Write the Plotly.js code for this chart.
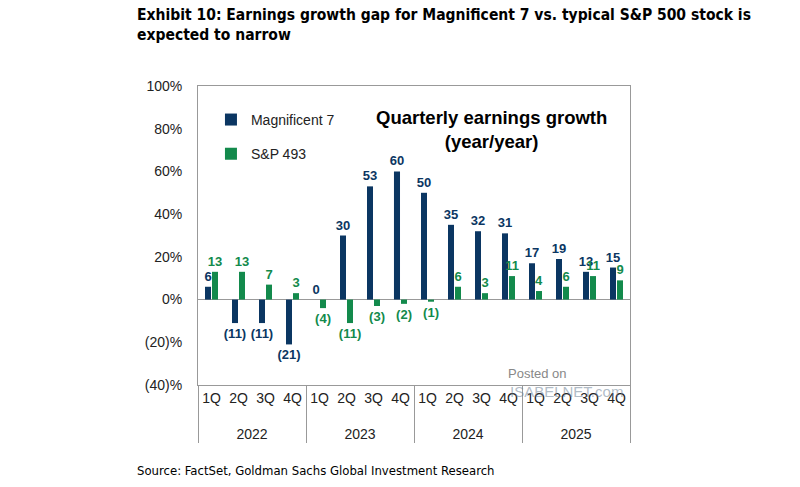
<!DOCTYPE html>
<html>
<head>
<meta charset="utf-8">
<script src="https://cdn.plot.ly/plotly-3.0.1.min.js"></script>
<style>
  body { margin: 0; background: #fff; }
  #chart { width: 800px; height: 487px; }
</style>
</head>
<body>
<div id="chart"></div>
<script>
// values, % year/year
var years = ["2022","2022","2022","2022","2023","2023","2023","2023",
             "2024","2024","2024","2024","2025","2025","2025","2025"];
var quarters = ["1Q","2Q","3Q","4Q","1Q","2Q","3Q","4Q",
                "1Q","2Q","3Q","4Q","1Q","2Q","3Q","4Q"];
var mag7 = [6, -11, -11, -21, 0, 30, 53, 60, 50, 35, 32, 31, 17, 19, 13, 15];
var sp493 = [13, 13, 7, 3, -4, -11, -3, -2, -1, 6, 3, 11, 4, 6, 11, 9];
var yTicks = [-40, -20, 0, 20, 40, 60, 80, 100];
var yTickText = ["(40)%", "(20)%", "0%", "20%", "40%", "60%", "80%", "100%"];

var navy = "#0b3662";
var green = "#138a4c";

// negatives shown in brackets
function lbl(v) {
    return v < 0 ? "(" + (-v) + ")" : String(v);
}

// year row sits a bit lower than the quarter row
var yearRow = years.map(function(y) { return "<br>" + y; });

var data = [
    {
        type: "bar", name: "Magnificent 7",
        x: [yearRow, quarters], y: mag7,
        marker: {color: navy},
        text: mag7.map(lbl), textposition: "outside", constraintext: "none",
        textfont: {family: "Liberation Sans, Arial, sans-serif", size: 13, color: navy, weight: 700},
        cliponaxis: false, legendgroup: "a", hoverinfo: "y"
    },
    {
        type: "bar", name: "S&P 493",
        x: [yearRow, quarters], y: sp493,
        marker: {color: green},
        text: sp493.map(lbl), textposition: "outside", constraintext: "none",
        textfont: {family: "Liberation Sans, Arial, sans-serif", size: 13, color: green, weight: 700},
        cliponaxis: false, legendgroup: "b", hoverinfo: "y"
    }
];

var layout = {
    width: 800, height: 487,
    margin: {l: 198, r: 170, t: 86, b: 102},
    paper_bgcolor: "#fff", plot_bgcolor: "#fff",
    font: {family: "Liberation Sans, Arial, sans-serif", size: 14, color: "#222"},
    barmode: "group", bargap: 0.48, bargroupgap: 0.14,
    showlegend: true,
    legend: {
        x: 0.03, y: 0.94, xanchor: "left", yanchor: "top",
        bgcolor: "rgba(0,0,0,0)", tracegroupgap: 13,
        font: {size: 14, color: "#222"}, itemwidth: 30
    },
    xaxis: {
        type: "multicategory",
        showline: true, linecolor: "#999", linewidth: 1, mirror: true,
        showdividers: true, dividercolor: "#999", dividerwidth: 1,
        tickfont: {size: 14, color: "#222"},
        showgrid: false, ticks: ""
    },
    yaxis: {
        range: [-40, 100], tickvals: yTicks, ticktext: yTickText,
        showline: true, linecolor: "#999", linewidth: 1, mirror: true,
        showgrid: false, zeroline: true, zerolinecolor: "#999", zerolinewidth: 1,
        ticks: "", ticklabelstandoff: 12,
        tickfont: {size: 14, color: "#222"}
    },
    annotations: [
        {
            xref: "paper", yref: "paper", x: 0.68, y: 0.935,
            xanchor: "center", yanchor: "top", showarrow: false,
            text: "<b>Quarterly earnings growth<br>(year/year)</b>",
            font: {size: 18.5, color: "#000"}
        },
        {
            xref: "paper", yref: "paper", x: -0.145, y: 1.275,
            xanchor: "left", yanchor: "top", showarrow: false, align: "left",
            text: "<b>Exhibit 10: Earnings growth gap for Magnificent 7 vs. typical S&P 500 stock is<br>expected to narrow</b>",
            font: {family: "Liberation Sans Narrow, DejaVu Sans Condensed, sans-serif", size: 15.5, color: "#000"}
        },
        {
            xref: "paper", yref: "paper", x: -0.145, y: -0.255,
            xanchor: "left", yanchor: "top", showarrow: false, align: "left",
            text: "Source: FactSet, Goldman Sachs Global Investment Research",
            font: {family: "Liberation Sans Narrow, DejaVu Sans Condensed, sans-serif", size: 13, color: "#000"}
        },
        {
            xref: "paper", yref: "paper", x: 0.785, y: 0.037,
            xanchor: "center", yanchor: "middle", showarrow: false,
            text: "Posted on",
            font: {size: 13, color: "#888"}
        },
        {
            xref: "paper", yref: "paper", x: 0.854, y: -0.023,
            xanchor: "center", yanchor: "middle", showarrow: false,
            text: "ISABELNET.com",
            font: {size: 15, color: "rgba(110,130,150,0.55)"}
        }
    ]
};

Plotly.newPlot("chart", data, layout, {displayModeBar: false, staticPlot: true});
</script>
</body>
</html>
